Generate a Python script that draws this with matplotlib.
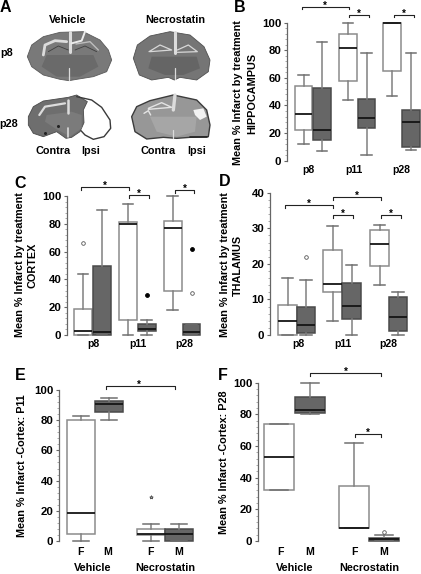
import matplotlib
matplotlib.use("Agg")
import matplotlib.pyplot as plt
from matplotlib.patches import Polygon
from matplotlib.ticker import MultipleLocator

plt.rcParams['font.family'] = ['Liberation Sans', 'DejaVu Sans']
plt.rcParams['font.weight'] = 'bold'
plt.rcParams['font.size'] = 7.5

W, H = 421, 574

# each box: whisker low, q1, median, q3, whisker high
groups = ["p8", "p11", "p28"]

hippo_boxes = [[12, 22, 34, 54, 62], [7, 15, 22, 53, 86],
               [44, 58, 82, 92, 100], [4, 24, 31, 45, 78],
               [47, 65, 100, 100, 100], [8, 10, 28, 37, 78]]
hippo_open = [[], [], [], [], [], []]
hippo_filled = [[], [], [], [], [], []]

cortex_boxes = [[0, 0, 3, 19, 44], [0, 0, 2, 50, 90],
                [0, 11, 80, 81, 94], [0, 3, 4.5, 8, 11],
                [18, 32, 77, 82, 100], [0, 0, 2, 8, 8]]
cortex_open = [[66], [], [], [], [], [30]]
cortex_filled = [[], [], [], [29], [], [62]]

thal_boxes = [[0, 0, 3.8, 8.5, 16], [0, 0.5, 2.9, 8, 15.5],
              [4, 12, 14.3, 24, 30.5], [0, 4.5, 8.2, 14.5, 19.8],
              [14, 19.5, 25.7, 29.5, 30.8], [0, 1, 5, 10.7, 12.2]]
thal_open = [[], [22], [], [], [], []]
thal_filled = [[], [], [], [], [], []]

sex_labels = ["F", "M", "F", "M"]

p11_boxes = [[0, 4.5, 18.5, 80, 83], [80, 85.5, 91, 93, 95],
             [0, 4, 4.5, 8, 11], [0, 0, 4.5, 8, 11.5]]
p11_stars = [[], [], [29], []]
p11_filled = [[], [], [], []]

p28_boxes = [[32, 32, 53, 74, 74], [80, 81, 82.5, 91, 100],
             [8, 8, 8, 35, 62], [0, 0, 1, 2, 3.5]]
p28_open = [[], [], [], [6]]
p28_filled = [[], [], [], []]


def panel(rect, ymax, step, minor, centers, width, stats, open_f, filled_f, labels,
          label_pos, label_pad, open_marker="o"):
    # rect is left, top, right, bottom in pixels of the figure
    l, t, r, b = rect
    ax = fig.add_axes([l / W, 1 - b / H, (r - l) / W, (b - t) / H])
    ax.patch.set_alpha(0)
    for i, (s, x) in enumerate(zip(stats, centers)):
        dark = i % 2 == 1
        col = "#666666" if dark else "white"
        edge = "#4a4a4a" if dark else "#8c8c8c"
        st = dict(whislo=s[0], q1=s[1], med=s[2], q3=s[3], whishi=s[4], fliers=[])
        ax.bxp([st], positions=[x], widths=width, patch_artist=True,
               manage_ticks=False, capwidths=width * 0.6,
               boxprops=dict(facecolor=col, edgecolor=edge, linewidth=1.1, clip_on=False),
               medianprops=dict(color="#151515", linewidth=1.3, clip_on=False),
               whiskerprops=dict(color="#808080", linewidth=1.1, clip_on=False),
               capprops=dict(color="#707070", linewidth=1.1, clip_on=False))
        for f in open_f[i]:
            ax.plot(x, f, open_marker, ms=2.6, mew=0.6, mec="#555555", mfc="white", clip_on=False)
        for f in filled_f[i]:
            ax.plot(x, f, "o", ms=2.8, mew=0.6, mec="black", mfc="black", clip_on=False)
    ax.set_xlim(l, r)
    ax.set_ylim(0, ymax)
    ax.yaxis.set_major_locator(MultipleLocator(step))
    ax.yaxis.set_minor_locator(MultipleLocator(minor))
    ax.tick_params(axis="y", which="major", length=2.5, width=0.8, color="#666666", pad=1.5, labelsize=8.2)
    ax.tick_params(axis="y", which="minor", length=1.3, width=0.5, color="#888888")
    ax.set_xticks(label_pos)
    ax.set_xticklabels(labels, fontsize=7.6)
    ax.tick_params(axis="x", length=0, pad=label_pad)
    for side in ["top", "right", "bottom"]:
        ax.spines[side].set_visible(False)
    ax.spines["left"].set_color("#666666")
    ax.spines["left"].set_linewidth(0.9)
    return ax


def bracket(x1, x2, y, star_x=None):
    over.plot([x1, x1, x2, x2], [y + 2.5, y, y, y + 2.5], color="#222222", lw=0.8)
    sx = (x1 + x2) / 2 if star_x is None else star_x
    over.text(sx, y - 1, "*", ha="center", va="center", fontsize=7)


def zoomed(points):
    return [(x / 3, y / 3) for x, y in points]


def shape(points, face, edge="none", lw=0.6):
    over.add_patch(Polygon(zoomed(points), closed=True, fc=face, ec=edge, lw=lw, joinstyle="round"))


def line(points, color="#dcdcdc", lw=1.0):
    pts = zoomed(points)
    over.plot([p[0] for p in pts], [p[1] for p in pts], color=color, lw=lw, solid_capstyle="round")


fig = plt.figure(figsize=(W / 100, H / 100), dpi=100)

panel((287, 22.7, 421, 160.7), 100, 20, 4,
      [303.5, 322, 348, 366.5, 392, 411], 17.5, hippo_boxes, hippo_open, hippo_filled,
      groups, [308, 354, 401], 3)
panel((67, 196, 205, 335), 100, 20, 4,
      [83, 102, 128, 146.5, 172.5, 191.5], 18, cortex_boxes, cortex_open, cortex_filled,
      groups, [93, 138, 184], 3)
panel((270, 192.7, 415, 335), 40, 10, 2,
      [287.5, 306, 332.5, 351.5, 379.5, 398], 18.5, thal_boxes, thal_open, thal_filled,
      groups, [298, 343, 388], 3)
panel((59, 390, 200, 541), 100, 20, 4,
      [81, 109, 151, 179], 28, p11_boxes, p11_stars, p11_filled,
      sex_labels, [80, 108, 151, 179], 4, open_marker="*")
panel((258, 382.7, 405, 541), 100, 20, 4,
      [279, 310, 354, 384], 30, p28_boxes, p28_open, p28_filled,
      sex_labels, [280, 310, 354, 384], 4)

# overlay in figure pixels for the photos, brackets and loose text
over = fig.add_axes([0, 0, 1, 1])
over.set_xlim(0, W)
over.set_ylim(H, 0)
over.axis("off")
over.patch.set_alpha(0)

# p8 vehicle
shape([(82, 170), (95, 135), (130, 110), (180, 97), (250, 95), (300, 120), (325, 150), (335, 180),
       (320, 215), (280, 230), (230, 238), (207, 242), (180, 238), (130, 225), (95, 200)], "#797979", "#5a5a5a")
shape([(140, 165), (280, 165), (295, 200), (240, 230), (170, 230), (125, 200)], "#6a6a6a")
line([(130, 165), (135, 135), (165, 122), (200, 125)], lw=2.0)
line([(145, 155), (175, 138), (205, 150)], "#3f3f3f", 0.6)
line([(225, 150), (255, 138), (290, 155)], "#3f3f3f", 0.6)
line([(228, 132), (270, 125), (295, 150)], "#bdbdbd", 1.0)
line([(210, 95), (210, 155)], lw=2.2)
line([(208, 205), (208, 240)], lw=0.9)
line([(255, 95), (245, 122), (215, 130)], "#ececec", 1.4)

# p8 necrostatin
shape([(400, 175), (412, 135), (450, 108), (510, 95), (570, 105), (612, 140), (630, 180), (625, 215),
       (590, 240), (540, 232), (523, 240), (505, 232), (455, 240), (418, 225)], "#757575", "#505050")
shape([(455, 170), (590, 170), (600, 205), (550, 225), (495, 225), (445, 205)], "#656565")
line([(447, 155), (480, 135), (515, 150), (450, 155)], "#d8d8d8", 0.9)
line([(532, 150), (565, 135), (592, 155), (532, 157)], "#d8d8d8", 0.9)
line([(525, 95), (525, 160)], lw=2.2)
line([(524, 205), (524, 238)], lw=0.9)

# p28 vehicle with the lesion
shape([(85, 350), (100, 320), (130, 303), (205, 292), (230, 285), (262, 305), (250, 330), (252, 368),
       (240, 395), (215, 412), (198, 415), (170, 395), (130, 410), (100, 400), (85, 375)], "#6e6e6e", "#4a4a4a")
shape([(140, 345), (215, 335), (245, 345), (245, 385), (210, 410), (165, 385), (135, 365)], "#7b7b7b")
line([(118, 345), (135, 320), (195, 310)], lw=1.6)
line([(205, 300), (205, 340)], lw=1.8)
line([(205, 385), (205, 412)], lw=1.2)
line([(230, 290), (275, 300), (305, 322), (330, 360), (332, 385), (312, 410), (280, 418), (255, 405), (243, 392)],
     "#3a3a3a", 1.0)
over.plot([135 / 3, 175 / 3], [398 / 3, 378 / 3], "o", ms=1.2, color="#222222")

# p28 necrostatin
shape([(395, 350), (410, 320), (450, 302), (520, 285), (590, 300), (620, 330), (630, 375), (625, 410),
       (570, 412), (530, 415), (490, 412), (440, 417), (405, 395)], "#979797", "#3c3c3c", 1.0)
shape([(450, 350), (590, 350), (585, 395), (530, 410), (470, 395)], "#a6a6a6")
line([(445, 325), (485, 308), (515, 322), (445, 328)], "#e4e4e4", 1.0)
line([(432, 340), (445, 332), (452, 345)], "#e4e4e4", 1.0)
line([(525, 285), (520, 330)], lw=2.4)
line([(518, 390), (518, 414)], lw=0.9)
shape([(580, 330), (610, 325), (620, 350), (600, 360), (585, 345)], "#f2f2f2")
line([(570, 411), (622, 411)], "#222222", 1.2)

for txt, x, y in [("A", 5, 8), ("B", 240, 7), ("C", 20, 183), ("D", 225, 182),
                  ("E", 20, 375), ("F", 223, 376)]:
    over.text(x, y, txt, ha="center", va="center", fontsize=11.5)

for txt, x, y in [("Vehicle", 68, 20), ("Necrostatin", 175, 20), ("p8", 7, 53), ("p28", 9, 124),
                  ("Contra", 53, 151), ("Ipsi", 91, 151), ("Contra", 158, 151), ("Ipsi", 197, 151)]:
    over.text(x, y, txt, ha="center", va="center", fontsize=7.8)

for txt, x, y in [("Vehicle", 93, 568), ("Necrostatin", 165, 568), ("Vehicle", 295, 568), ("Necrostatin", 369, 568)]:
    over.text(x, y, txt, ha="center", va="center", fontsize=7.8)

for txt, x, y in [("Mean % Infarct by treatment", 238, 93), ("HIPPOCAMPUS", 252, 93),
                  ("Mean % Infarct by treatment", 20, 265), ("CORTEX", 32, 265),
                  ("Mean % Infarct by treatment", 225, 265), ("THALAMUS", 238, 265),
                  ("Mean % Infarct -Cortex: P11", 22, 466), ("Mean % Infarct -Cortex: P28", 224, 462)]:
    over.text(x, y, txt, ha="center", va="center", rotation=90, fontsize=7.8)

bracket(301.7, 349, 6.7)
bracket(349, 369, 14.7)
bracket(394, 414, 14.7)
bracket(81, 129, 187)
bracket(129, 149, 195)
bracket(175, 194, 190)
bracket(284.7, 332.7, 205)
bracket(332.7, 380.7, 197)
bracket(332.7, 352.7, 215)
bracket(380.7, 400.7, 215)
bracket(106, 175, 386, star_x=139)
bracket(310, 381, 373)
bracket(355, 381, 434)

fig.savefig("out.png", dpi=100)
